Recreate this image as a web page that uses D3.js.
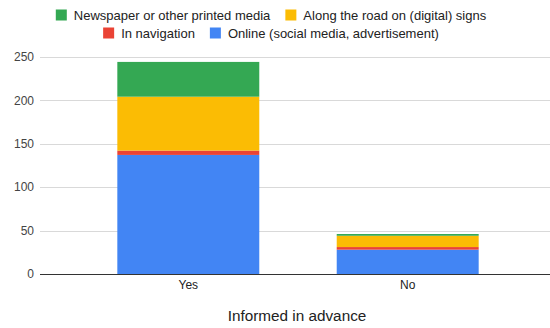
<!DOCTYPE html>
<html>
<head>
<meta charset="utf-8">
<script src="https://cdn.jsdelivr.net/npm/d3@7/dist/d3.min.js"></script>
<style>
  html, body { margin: 0; padding: 0; background: #fff; }
  svg { display: block; font-family: "Liberation Sans", Arial, sans-serif; }
</style>
</head>
<body>
<svg id="chart" width="550" height="328"></svg>
<script>
// Answers grouped by whether people were informed in advance
const categories = ["Yes", "No"];
const seriesNames = [
  "Online (social media, advertisement)",
  "In navigation",
  "Along the road on (digital) signs",
  "Newspaper or other printed media"
];
const online = [137, 28];
const navigation = [5, 3];
const roadSigns = [62, 13];
const newspaper = [40, 2];
const seriesColors = ["#4285f4", "#ea4335", "#fbbc04", "#34a853"];
const yTicks = [0, 50, 100, 150, 200, 250];
const xTitle = "Informed in advance";

// Legend order (rows as laid out)
const legendRows = [
  [3, 2],
  [1, 0]
];

const svg = d3.select("#chart");
const plot = { left: 40, right: 550, top: 56.7, bottom: 274 };

const rows = categories.map((c, i) => ({
  cat: c,
  s0: online[i], s1: navigation[i], s2: roadSigns[i], s3: newspaper[i]
}));
const stack = d3.stack().keys(["s0", "s1", "s2", "s3"]);
const layers = stack(rows);

const y = d3.scaleLinear().domain([0, 250]).range([plot.bottom, plot.top]);
const x = d3.scaleBand().domain(categories).range([78.6, 517.4])
  .paddingInner(0.353).paddingOuter(0.1765);

// Gridlines
svg.append("g")
  .selectAll("line")
  .data(yTicks.filter(t => t !== 0))
  .join("line")
  .attr("x1", plot.left).attr("x2", plot.right)
  .attr("y1", d => Math.round(y(d)) + 0.5).attr("y2", d => Math.round(y(d)) + 0.5)
  .attr("stroke", "#d9d9d9").attr("stroke-width", 1);

// Y tick labels
const yAxis = d3.axisLeft(y).tickValues(yTicks).tickSize(0).tickPadding(6);
const yg = svg.append("g").attr("transform", `translate(${plot.left},0)`).call(yAxis);
yg.select(".domain").remove();
yg.selectAll("text").attr("font-size", 12).attr("fill", "#444")
  .attr("font-family", "Liberation Sans, Arial, sans-serif");

// Stacked bars
svg.append("g")
  .selectAll("g")
  .data(layers)
  .join("g")
  .attr("fill", (d, i) => seriesColors[i])
  .selectAll("rect")
  .data(d => d)
  .join("rect")
  .attr("x", d => x(d.data.cat))
  .attr("width", x.bandwidth())
  .attr("y", d => y(d[1]))
  .attr("height", d => y(d[0]) - y(d[1]));

// Baseline
svg.append("line")
  .attr("x1", plot.left).attr("x2", plot.right)
  .attr("y1", plot.bottom + 0.5).attr("y2", plot.bottom + 0.5)
  .attr("stroke", "#333").attr("stroke-width", 1);

// X axis labels
const xAxis = d3.axisBottom(x).tickSize(0).tickPadding(6);
const xg = svg.append("g").attr("transform", `translate(0,${plot.bottom})`).call(xAxis);
xg.select(".domain").remove();
xg.selectAll("text").attr("font-size", 12).attr("fill", "#222")
  .attr("font-family", "Liberation Sans, Arial, sans-serif");

// X axis title
svg.append("text")
  .attr("x", 297).attr("y", 321)
  .attr("text-anchor", "middle")
  .attr("font-size", 15.3).attr("fill", "#222")
  .text(xTitle);

// Legend
const legendCenter = 271;
const legendY = [15, 33];
const sw = 11, swGap = 7, itemGap = 15;
legendRows.forEach((row, ri) => {
  const g = svg.append("g");
  let cx = 0;
  row.forEach(si => {
    const item = g.append("g").attr("transform", `translate(${cx},0)`);
    item.append("rect")
      .attr("x", 0).attr("y", legendY[ri] - sw / 2)
      .attr("width", sw).attr("height", sw)
      .attr("fill", seriesColors[si]);
    const t = item.append("text")
      .attr("x", sw + swGap).attr("y", legendY[ri])
      .attr("dy", "0.35em")
      .attr("font-size", 13).attr("fill", "#222")
      .text(seriesNames[si]);
    cx += sw + swGap + t.node().getComputedTextLength() + itemGap;
  });
  const total = cx - itemGap;
  g.attr("transform", `translate(${legendCenter - total / 2},0)`);
});
</script>
</body>
</html>
